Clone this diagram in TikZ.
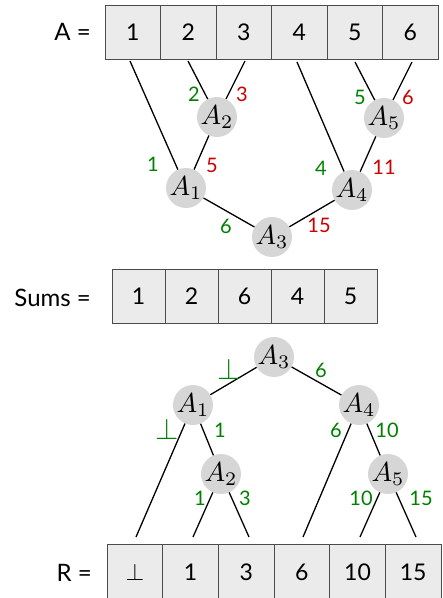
\documentclass[tikz,border=0pt]{standalone}
\usepackage[no-math]{fontspec}
\usepackage{graphicx}
\setmainfont{Lato}
\newcommand{\nlab}[1]{\scalebox{2.75}{\normalsize$#1$}}
\newcommand{\perpsym}[1]{\scalebox{#1}{\normalsize$\perp$}}
\begin{document}
\begin{tikzpicture}[x=1pt,y=-1pt,
  cellbox/.style={draw=black!70,line width=0.9pt,fill=black!8,minimum height=54pt,inner sep=0pt,font=\fontsize{23}{26}\selectfont},
  tnode/.style={circle,fill=black!16,minimum size=33pt,inner sep=0pt},
  edge/.style={line width=1.3pt},
  glab/.style={text=green!50!black,font=\fontsize{20}{24}\selectfont,inner sep=0pt},
  rlab/.style={text=red!80!black,font=\fontsize{20}{24}\selectfont,inner sep=0pt},
  arrlab/.style={anchor=east,inner sep=0pt,font=\fontsize{24}{28}\selectfont}]
\useasboundingbox (0,0) rectangle (443,598);
% --- array A
\foreach \v [count=\i] in {1,2,3,4,5,6}
  \node[cellbox,minimum width=55.5pt] (a\i) at (105+55.5*\i-27.75,32) {\v};
\node[arrlab] (alab) at (91,32) {A =};
% --- top tree nodes
\node[tnode] (t2) at (217,117) {\nlab{A_2}};
\node[tnode] (t5) at (384,118) {\nlab{A_5}};
\node[tnode] (t1) at (186,188) {\nlab{A_1}};
\node[tnode] (t4) at (352,190) {\nlab{A_4}};
\node[tnode] (t3) at (272,237) {\nlab{A_3}};
\coordinate (s1) at (130,61);
\coordinate (s2) at (188,61);
\coordinate (s3) at (245,61);
\coordinate (s4) at (297,62);
\coordinate (s5) at (355,62);
\coordinate (s6) at (412,62);
\draw[edge] (s1) -- (t1);
\draw[edge] (s2) -- (t2);
\draw[edge] (s3) -- (t2);
\draw[edge] (s4) -- (t4);
\draw[edge] (s5) -- (t5);
\draw[edge] (s6) -- (t5);
\draw[edge] (t2) -- (t1);
\draw[edge] (t5) -- (t4);
\draw[edge] (t1) -- (t3);
\draw[edge] (t4) -- (t3);
\node[glab] (l2) at (194,94) {2};
\node[rlab] (l3) at (242,94) {3};
\node[glab] (l5) at (360,97) {5};
\node[rlab] (l6) at (408,97) {6};
\node[glab] (l1) at (153,164) {1};
\node[rlab] (l5b) at (212,165) {5};
\node[glab] (l4) at (321,168) {4};
\node[rlab] (l11) at (384,167) {11};
\node[glab] (l6b) at (226,226) {6};
\node[rlab] (l15) at (319,225) {15};
% --- Sums
\foreach \v [count=\i] in {1,2,6,4,5}
  \node[cellbox,minimum width=53pt] (m\i) at (112+53*\i-26.5,296.5) {\v};
\node[arrlab] (mlab) at (91,298) {Sums =};
% --- bottom tree
\node[tnode] (b3) at (274,357) {\nlab{A_3}};
\node[tnode] (b1) at (193,405) {\nlab{A_1}};
\node[tnode] (b4) at (359,405) {\nlab{A_4}};
\node[tnode] (b2) at (221,474) {\nlab{A_2}};
\node[tnode] (b5) at (388,474) {\nlab{A_5}};
\coordinate (e1) at (136,537);
\coordinate (e2) at (193,537);
\coordinate (e3) at (249,537);
\coordinate (e4) at (303,537);
\coordinate (e5) at (360,537);
\coordinate (e6) at (416,537);
\draw[edge] (b3) -- (b1);
\draw[edge] (b3) -- (b4);
\draw[edge] (b1) -- (b2);
\draw[edge] (b1) -- (e1);
\draw[edge] (b2) -- (e2);
\draw[edge] (b2) -- (e3);
\draw[edge] (b4) -- (e4);
\draw[edge] (b4) -- (b5);
\draw[edge] (b5) -- (e5);
\draw[edge] (b5) -- (e6);
\node[glab] (p1) at (229,369) {\perpsym{3.0}};
\node[glab] (p2) at (321,370) {6};
\node[glab] (p3) at (167,429) {\perpsym{3.0}};
\node[glab] (p4) at (220,430) {1};
\node[glab] (p5) at (336,430) {6};
\node[glab] (p6) at (387,430) {10};
\node[glab] (p7) at (200,498) {1};
\node[glab] (p8) at (245,498) {3};
\node[glab] (p9) at (361,498) {10};
\node[glab] (p10) at (421,498) {15};
% --- R
\foreach \v [count=\i] in {\perpsym{2.4},1,3,6,10,15}
  \node[cellbox,minimum width=55.67pt,minimum height=56pt] (r\i) at (107+55.67*\i-27.83,572) {\v};
\node[arrlab] (rlab) at (92,573) {R =};
\end{tikzpicture}
\end{document}
